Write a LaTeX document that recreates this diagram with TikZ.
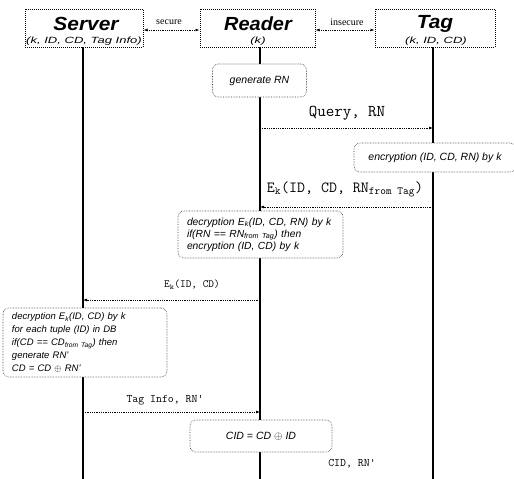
\documentclass[tikz,border=0pt]{standalone}
\usepackage{fontspec}
\usepackage{graphicx}
\setmainfont{Liberation Serif}
\setsansfont{Liberation Sans}
\usetikzlibrary{arrows.meta}

\newcommand{\wide}[2]{\scalebox{#1}[1]{#2}}

\tikzset{
  entity/.style={draw, densely dotted, line width=1pt, minimum width=118pt, minimum height=38pt, inner sep=0pt},
  entityname/.style={font=\sffamily\bfseries\itshape\fontsize{19}{20}\selectfont},
  entityinfo/.style={font=\sffamily\itshape\fontsize{9}{10}\selectfont},
  workbox/.style={draw=black!75, densely dotted, line width=0.6pt, rounded corners=6pt, fill=white, inner sep=0pt, font=\sffamily\itshape\fontsize{10.5}{12}\selectfont},
  life/.style={line width=1.5pt},
  msg/.style={densely dotted, line width=0.8pt, -{Latex[length=4pt,width=3pt]}},
  link/.style={densely dotted, line width=0.8pt, {Latex[length=4pt,width=3pt]}-{Latex[length=4pt,width=3pt]}},
  msglabel/.style={font=\ttfamily\fontsize{11}{14}\selectfont},
  linklabel/.style={font=\rmfamily\fontsize{10}{11}\selectfont}
}

\begin{document}
\begin{tikzpicture}[x=1pt,y=-1pt]
\useasboundingbox (0,0) rectangle (514,479);

% Entities
\node[entity] (server) at (84,28) {};
\node[entity, minimum width=115pt] (reader) at (257.5,28) {};
\node[entity, minimum width=120pt] (tag) at (435,28) {};

\node[entityname] (serverName) at (86,23.5) {\wide{1.1}{Server}};
\node[entityinfo] (serverInfo) at (84,41) {\wide{1.45}{(k, ID, CD, Tag Info)}};
\node[entityname] (readerName) at (258,23.5) {\wide{1.05}{Reader}};
\node[entityinfo] (readerInfo) at (258,41) {\wide{1.45}{(k)}};
\node[entityname] (tagName) at (435,23.5) {\wide{1.1}{Tag}};
\node[entityinfo] (tagInfo) at (436,41) {\wide{1.45}{(k, ID, CD)}};

% Channels
\draw[link] (server.east |- 0,30) -- (reader.west |- 0,30);
\draw[link] (reader.east |- 0,30) -- (tag.west |- 0,30);
\node[linklabel] (secure) at (169,22) {secure};
\node[linklabel] (insecure) at (347,22) {insecure};

% Lifelines
\coordinate (serverTop) at (83,47);
\coordinate (serverEnd) at (83,479);
\coordinate (readerTop) at (260,47);
\coordinate (readerEnd) at (260,479);
\coordinate (tagTop) at (433,47);
\coordinate (tagEnd) at (433,479);
\draw[life] (serverTop) -- (serverEnd);
\draw[life] (readerTop) -- (readerEnd);
\draw[life] (tagTop) -- (tagEnd);

% Steps
\node[workbox, minimum width=94pt, minimum height=33pt] (genRN) at (259.5,80.5) {generate RN};

\node[workbox, minimum width=162pt, minimum height=29pt] (encTag) at (435,157.5) {encryption (ID, CD, RN) by k};

\node[workbox, minimum height=47pt, inner xsep=9pt, align=left, text width=147pt,
      font=\sffamily\itshape\fontsize{10.3}{12}\selectfont] (decReader) at (260.5,234.5)
  {decryption E\textsubscript{k}(ID, CD, RN) by k\\
   if(RN == RN\textsubscript{from Tag}) then\\
   encryption (ID, CD) by k};

\node[workbox, minimum height=69pt, inner xsep=9pt, align=left, text width=146pt,
      font=\sffamily\itshape\fontsize{9.5}{13}\selectfont] (decServer) at (85,342.5)
  {decryption E\textsubscript{k}(ID, CD) by k\\
   for each tuple (ID) in DB\\
   if(CD == CD\textsubscript{from Tag}) then\\
   generate RN'\\
   CD = CD $\oplus$ RN'};

\node[workbox, minimum width=142pt, minimum height=32pt] (cid) at (261,436) {CID = CD $\oplus$ ID};

% Messages
\coordinate (q1) at (260,128);
\coordinate (q2) at (433,128);
\draw[msg] (q1) -- (q2); % reader to tag
\node[msglabel, font=\ttfamily\fontsize{16.5}{18}\selectfont] (query) at (347,113) {Query, RN};

\coordinate (e1) at (433,207);
\coordinate (e2) at (260,207);
\draw[msg] (e1) -- (e2); % tag to reader
\node[msglabel, font=\ttfamily\fontsize{15.5}{18}\selectfont] (reply) at (345,189) {E\textsubscript{k}(ID, CD, RN\textsubscript{from Tag})};

\coordinate (f1) at (260,300);
\coordinate (f2) at (83,300);
\draw[msg] (f1) -- (f2); % reader to server
\node[msglabel] (forward) at (192,285) {E\textsubscript{k}(ID, CD)};

\coordinate (t1) at (83,412);
\coordinate (t2) at (260,412);
\draw[msg] (t1) -- (t2); % server to reader
\node[msglabel, font=\ttfamily\fontsize{11.5}{14}\selectfont] (tagInfoMsg) at (165,400) {Tag Info, RN'};

\node[msglabel, font=\ttfamily\fontsize{11.5}{14}\selectfont] (cidMsg) at (352,464) {CID, RN'};
\end{tikzpicture}
\end{document}
